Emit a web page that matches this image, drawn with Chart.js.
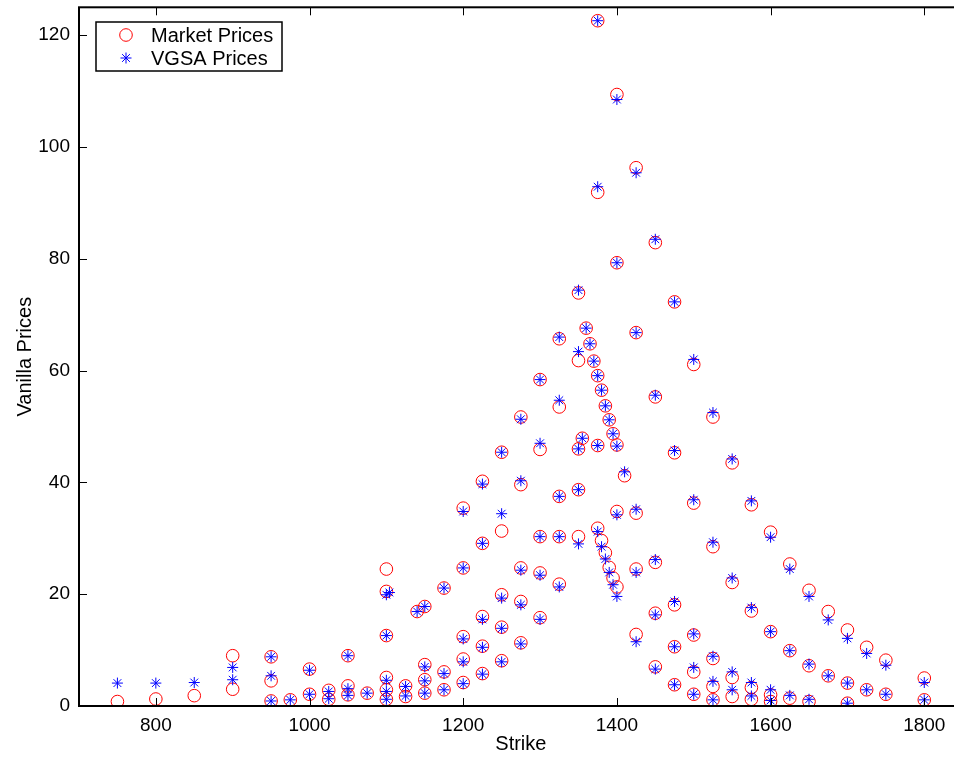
<!DOCTYPE html>
<html>
<head>
<meta charset="utf-8">
<script src="https://cdn.jsdelivr.net/npm/chart.js@4/dist/chart.umd.min.js"></script>
<style>
  html, body { margin:0; padding:0; background:#fff; overflow:hidden; }
  #wrap { width:954px; height:758px; overflow:hidden; }
</style>
</head>
<body>
<div id="wrap"><canvas id="c" width="970" height="758"></canvas></div>
<script>
// market prices (circles)
const mktStrike = [
  750, 800, 850, 900, 900, 950, 950, 950, 975, 1000, 1000, 1025, 1025,
  1050, 1050, 1050, 1075,
  1100, 1100, 1100, 1100, 1100, 1100, 1125, 1125, 1140,
  1150, 1150, 1150, 1150, 1175, 1175, 1175,
  1200, 1200, 1200, 1200, 1200, 1225, 1225, 1225, 1225, 1225,
  1250, 1250, 1250, 1250, 1250, 1275, 1275, 1275, 1275, 1275,
  1300, 1300, 1300, 1300, 1300, 1325, 1325, 1325, 1325, 1325,
  1350, 1350, 1350, 1350, 1350, 1355, 1360, 1365, 1370,
  1375, 1375, 1375, 1375, 1375, 1380, 1380, 1385, 1385, 1390, 1390, 1395, 1395,
  1400, 1400, 1400, 1400, 1400, 1410,
  1425, 1425, 1425, 1425, 1425, 1450, 1450, 1450, 1450, 1450,
  1475, 1475, 1475, 1475, 1475, 1500, 1500, 1500, 1500, 1500,
  1525, 1525, 1525, 1525, 1525, 1550, 1550, 1550, 1550,
  1575, 1575, 1575, 1575, 1600, 1600, 1600, 1600,
  1625, 1625, 1625, 1650, 1650, 1650, 1675, 1675,
  1700, 1700, 1700, 1725, 1725, 1750, 1750, 1800, 1800
];
const mktPrice = [
  0.8, 1.25, 1.85, 9.0, 3.0, 8.8, 4.5, 0.9, 1.1, 6.6, 2.1, 2.8, 1.2,
  9.0, 3.6, 2.0, 2.3,
  24.5, 20.5, 12.6, 5.1, 2.9, 1.2, 3.6, 1.7, 16.9,
  17.8, 7.4, 4.7, 2.3, 21.1, 6.1, 2.9,
  35.4, 24.7, 12.4, 8.4, 4.2, 40.2, 29.1, 16.0, 10.7, 5.8,
  45.4, 31.3, 19.9, 14.1, 8.1, 51.7, 39.6, 24.7, 18.7, 11.3,
  58.4, 45.9, 30.3, 23.8, 15.8, 65.7, 53.5, 37.5, 30.3, 21.8,
  73.9, 61.8, 46.0, 38.7, 30.3, 47.9, 67.6, 64.8, 61.7,
  122.6, 91.9, 59.1, 46.6, 31.8, 56.5, 29.6, 53.7, 27.4, 51.2, 24.8, 48.7, 22.9,
  109.4, 79.3, 46.7, 34.8, 21.3, 41.2,
  96.3, 66.8, 34.5, 24.5, 12.8, 82.9, 55.3, 25.7, 16.6, 7.0,
  72.3, 45.3, 18.1, 10.6, 3.8, 61.1, 36.3, 12.7, 6.1, 2.1,
  51.7, 28.5, 8.5, 3.5, 1.1, 43.5, 22.1, 5.1, 1.7,
  36.0, 17.0, 3.3, 1.2, 31.1, 13.3, 2.0, 0.8,
  25.4, 9.9, 1.4, 20.7, 7.2, 0.8, 16.9, 5.4,
  13.6, 4.1, 0.5, 10.5, 2.9, 8.2, 2.1, 5.0, 1.1
];

// model prices (stars)
const vgsaStrike = [
  750, 800, 850, 900, 900, 950, 950, 950, 975, 1000, 1000, 1025, 1025,
  1050, 1050, 1050, 1075,
  1100, 1104, 1100, 1100, 1100, 1100, 1125, 1125, 1140,
  1150, 1150, 1150, 1150, 1175, 1175, 1175,
  1200, 1200, 1200, 1200, 1200, 1225, 1225, 1225, 1225, 1225,
  1250, 1250, 1250, 1250, 1250, 1275, 1275, 1275, 1275, 1275,
  1300, 1300, 1300, 1300, 1300, 1325, 1325, 1325, 1325, 1325,
  1350, 1350, 1350, 1350, 1350, 1355, 1360, 1365, 1370,
  1375, 1375, 1375, 1375, 1375, 1380, 1380, 1385, 1385, 1390, 1390, 1395, 1395,
  1400, 1400, 1400, 1400, 1400, 1410,
  1425, 1425, 1425, 1425, 1425, 1450, 1450, 1450, 1450, 1450,
  1475, 1475, 1475, 1475, 1475, 1500, 1500, 1500, 1500, 1500,
  1525, 1525, 1525, 1525, 1525, 1550, 1550, 1550, 1550,
  1575, 1575, 1575, 1575, 1600, 1600, 1600, 1600,
  1625, 1625, 1625, 1650, 1650, 1650, 1675, 1675,
  1700, 1700, 1700, 1725, 1725, 1750, 1750, 1800, 1800
];
const vgsaPrice = [
  4.1, 4.1, 4.2, 6.9, 4.7, 8.8, 5.4, 0.9, 1.1, 6.4, 2.1, 2.6, 1.3,
  9.0, 3.1, 1.9, 2.3,
  19.9, 20.3, 12.6, 4.6, 2.6, 1.2, 3.5, 1.8, 16.9,
  17.8, 7.0, 4.5, 2.3, 21.1, 5.8, 2.9,
  34.8, 24.7, 12.0, 7.9, 4.0, 39.7, 29.1, 15.5, 10.5, 5.7,
  45.4, 34.4, 19.3, 13.9, 7.9, 51.3, 40.3, 24.3, 18.1, 11.1,
  58.4, 47.0, 30.3, 23.4, 15.5, 66.0, 54.7, 37.5, 30.3, 21.3,
  74.4, 63.4, 46.0, 38.7, 29.0, 47.9, 67.6, 64.8, 61.7,
  122.6, 92.9, 59.1, 46.6, 31.2, 56.5, 28.5, 53.7, 26.3, 51.2, 23.9, 48.7, 21.7,
  108.5, 79.3, 46.5, 34.2, 19.6, 41.9,
  95.4, 66.8, 35.2, 23.9, 11.5, 83.5, 55.6, 26.2, 16.3, 6.6,
  72.3, 45.7, 18.7, 10.6, 3.8, 62.0, 36.9, 12.9, 6.9, 2.1,
  52.5, 29.3, 8.9, 4.4, 1.1, 44.2, 22.9, 6.1, 2.9,
  36.7, 17.6, 4.2, 1.8, 30.2, 13.3, 2.9, 1.0,
  24.5, 9.9, 1.9, 19.6, 7.5, 1.2, 15.4, 5.4,
  12.1, 4.1, 0.5, 9.4, 2.9, 7.3, 2.1, 4.2, 1.1
];

const xTicks = [800, 1000, 1200, 1400, 1600, 1800];
const yTicks = [0, 20, 40, 60, 80, 100, 120];

const FONT = "'Liberation Sans', Arial, sans-serif";

function pts(xs, ys){
  return xs.map((x,i)=>({x:x, y:ys[i]}));
}

/* frame, inward ticks, legend */
const matlabAxes = {
  id: "matlabAxes",
  afterDraw(chart){
    const ctx = chart.ctx;
    const a = chart.chartArea;
    const sx = chart.scales.x, sy = chart.scales.y;
    ctx.save();
    ctx.strokeStyle = "#000";
    ctx.lineWidth = 1;
    xTicks.forEach(v=>{
      const px = Math.round(sx.getPixelForValue(v)) + 0.5;
      ctx.beginPath();
      ctx.moveTo(px, a.bottom); ctx.lineTo(px, a.bottom - 8);
      ctx.moveTo(px, a.top); ctx.lineTo(px, a.top + 8);
      ctx.stroke();
    });
    yTicks.forEach(v=>{
      const py = Math.round(sy.getPixelForValue(v)) + 0.5;
      ctx.beginPath();
      ctx.moveTo(a.left, py); ctx.lineTo(a.left + 8, py);
      ctx.moveTo(a.right, py); ctx.lineTo(a.right - 8, py);
      ctx.stroke();
    });
    ctx.lineWidth = 2;
    ctx.strokeRect(a.left, a.top, a.right - a.left, a.bottom - a.top);

    // legend
    const lx = 96, ly = 22, lw = 186, lh = 49;
    ctx.fillStyle = "#fff";
    ctx.fillRect(lx, ly, lw, lh);
    ctx.lineWidth = 1.5;
    ctx.strokeRect(lx, ly, lw, lh);
    ctx.lineWidth = 1;
    ctx.strokeStyle = "#ff0000";
    ctx.beginPath();
    ctx.arc(126, 35, 6.3, 0, Math.PI*2);
    ctx.stroke();
    ctx.strokeStyle = "#0000ff";
    ctx.beginPath();
    for(let k=0;k<4;k++){
      const ang = k*Math.PI/4;
      const dx = Math.cos(ang)*5.5, dy = Math.sin(ang)*5.5;
      ctx.moveTo(126-dx, 58-dy); ctx.lineTo(126+dx, 58+dy);
    }
    ctx.stroke();
    ctx.fillStyle = "#000";
    ctx.font = "20px " + FONT;
    ctx.textBaseline = "middle";
    ctx.textAlign = "left";
    ctx.fillText("Market Prices", 151, 36);
    ctx.fillText("VGSA Prices", 151, 59);
    ctx.restore();
  }
};

new Chart(document.getElementById("c"), {
  type: "scatter",
  data: {
    datasets: [
      {
        label: "Market Prices",
        data: pts(mktStrike, mktPrice),
        pointStyle: "circle",
        pointRadius: 6.3,
        pointHoverRadius: 6.3,
        borderColor: "#ff0000",
        backgroundColor: "rgba(0,0,0,0)",
        borderWidth: 1,
        order: 2
      },
      {
        label: "VGSA Prices",
        data: pts(vgsaStrike, vgsaPrice),
        pointStyle: "star",
        pointRadius: 5.5,
        pointHoverRadius: 5.5,
        borderColor: "#0000ff",
        backgroundColor: "#0000ff",
        borderWidth: 1,
        order: 1
      }
    ]
  },
  options: {
    responsive: false,
    animation: false,
    events: [],
    layout: { padding: { left: 0, top: 7, right: 7, bottom: 0 } },
    plugins: { legend: { display: false }, tooltip: { enabled: false } },
    scales: {
      x: {
        type: "linear",
        min: 700,
        max: 1850,
        grid: { display: false, drawTicks: false },
        border: { display: false },
        afterBuildTicks: s => { s.ticks = xTicks.map(v=>({value:v})); },
        afterFit: s => { s.height = 52; s.paddingLeft = 0; s.paddingRight = 0; },
        ticks: { padding: 8, color: "#000", font: { family: FONT, size: 19 }, maxRotation: 0,
                 callback: v => String(v) },
        title: { display: true, text: "Strike", color: "#000", font: { family: FONT, size: 20 }, padding: { top: 0, bottom: 2 } }
      },
      y: {
        type: "linear",
        min: 0,
        max: 125,
        grid: { display: false, drawTicks: false },
        border: { display: false },
        afterBuildTicks: s => { s.ticks = yTicks.map(v=>({value:v})); },
        afterFit: s => { s.width = 79; s.paddingTop = 0; s.paddingBottom = 0; },
        ticks: { padding: 9, color: "#000", font: { family: FONT, size: 19 } },
        title: { display: true, text: "Vanilla Prices", color: "#000", font: { family: FONT, size: 20 }, padding: { top: 13, bottom: 0 } }
      }
    }
  },
  plugins: [matlabAxes]
});
</script>
</body>
</html>
